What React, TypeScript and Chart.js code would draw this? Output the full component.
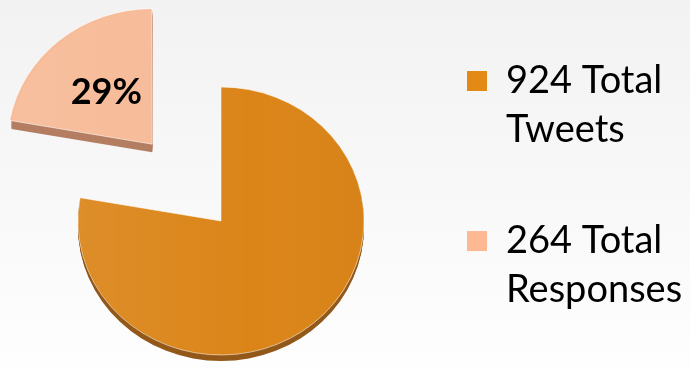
import React, { useEffect, useRef } from "react";
import { Chart, registerables, DoughnutController } from "chart.js";

Chart.register(...registerables);

// ---- data ----
const sliceLabels: string[][] = [["924 Total", "Tweets"], ["264 Total", "Responses"]];
const sliceValues: number[] = [924, 264];
const sliceTexts: (string | null)[] = [null, "29%"];

// ---- styles ----
const sliceColors = ["#DB8519", "#F7BB98"];
const sideColors = ["#93591A", "#B47E63"];
const legendColors = ["#E38A16", "#FDB994"];
const sideDepths = [6, 8];
const TILT = 0.937;

function arcGeom(arc: any) {
  const { x, y, startAngle, endAngle, outerRadius } = arc;
  const off = (arc.options.offset || 0) / 4;
  const mid = (startAngle + endAngle) / 2;
  return { ox: x + Math.cos(mid) * off, oy: y + Math.sin(mid) * off, startAngle, endAngle, outerRadius, mid, off };
}

const tiltPlugin = {
  id: "tilt3d",
  beforeDatasetsDraw(chart: any) {
    const ctx = chart.ctx;
    const arcs = chart.getDatasetMeta(0).data as any[];
    ctx.save();
    if (!arcs.length) return;
    const cx = arcs[0].x;
    const cy = arcs[0].y;
    ctx.translate(cx, cy);
    ctx.scale(1, TILT);
    ctx.translate(-cx, -cy);
    arcs.forEach((arc: any, i: number) => {
      const { ox, oy, startAngle, endAngle, outerRadius } = arcGeom(arc);
      ctx.fillStyle = sideColors[i];
      for (let d = sideDepths[i]; d >= 1; d--) {
        ctx.beginPath();
        ctx.moveTo(ox, oy + d / TILT);
        ctx.arc(ox, oy + d / TILT, outerRadius, startAngle, endAngle);
        ctx.closePath();
        ctx.fill();
      }
    });
  },
  afterDatasetsDraw(chart: any) {
    const ctx = chart.ctx;
    const arcs = chart.getDatasetMeta(0).data as any[];
    // subtle lighting on the top faces
    arcs.forEach((arc: any) => {
      const { ox, oy, startAngle, endAngle, outerRadius } = arcGeom(arc);
      const g = ctx.createLinearGradient(ox - outerRadius, oy, ox + outerRadius, oy);
      g.addColorStop(0, "rgba(255,255,255,0.07)");
      g.addColorStop(0.6, "rgba(255,255,255,0)");
      g.addColorStop(1, "rgba(0,0,0,0.02)");
      ctx.beginPath();
      ctx.moveTo(ox, oy);
      ctx.arc(ox, oy, outerRadius - 1, startAngle, endAngle);
      ctx.closePath();
      ctx.fillStyle = g;
      ctx.fill();
    });
    ctx.restore();
    arcs.forEach((arc: any, i: number) => {
      const txt = sliceTexts[i];
      if (!txt) return;
      const { mid, off, outerRadius } = arcGeom(arc);
      const dist = off + outerRadius * 0.5;
      const lx = arc.x + Math.cos(mid) * dist;
      const ly = arc.y + Math.sin(mid) * dist * TILT;
      ctx.save();
      ctx.font = "bold 36px Lato";
      ctx.fillStyle = "#000";
      ctx.textAlign = "center";
      ctx.textBaseline = "middle";
      ctx.fillText(txt, lx, ly);
      ctx.restore();
    });
  },
};

export default function App() {
  const ref = useRef<HTMLCanvasElement>(null);
  useEffect(() => {
    if (!ref.current) return;
    const baseGen = (DoughnutController as any).overrides.plugins.legend.labels.generateLabels;
    const chart = new Chart(ref.current, {
      type: "pie",
      data: {
        labels: sliceLabels as any,
        datasets: [
          {
            data: sliceValues,
            backgroundColor: sliceColors,
            borderColor: "rgba(255,255,255,0.55)",
            borderWidth: 1,
            offset: [0, 428],
            clip: false as any,
          },
        ],
      },
      options: {
        responsive: false,
        animation: false,
        radius: 143,
        cutout: "0%",
        layout: { padding: { left: 37, top: 0, right: 5, bottom: 0 } },
        plugins: {
          tooltip: { enabled: false },
          title: {
            display: true,
            text: "",
            position: "top",
            fullSize: false,
            font: { size: 10, lineHeight: 1 },
            padding: { top: 62, bottom: 0 },
          },
          legend: {
            position: "right",
            align: "start",
            fullSize: true,
            maxWidth: 280,
            labels: {
              boxWidth: 20,
              boxHeight: 20,
              padding: 62,
              color: "#000",
              font: { family: "Lato", size: 38, lineHeight: 1.29 },
              generateLabels(c: any) {
                return baseGen(c).map((it: any, i: number) => ({
                  ...it,
                  fillStyle: legendColors[i],
                  strokeStyle: legendColors[i],
                  lineWidth: 0,
                }));
              },
            },
          },
        },
      } as any,
      plugins: [tiltPlugin],
    });
    return () => chart.destroy();
  }, []);
  return (
    <div
      style={{
        position: "fixed",
        left: 0,
        top: 0,
        width: 690,
        height: 370,
        background: "linear-gradient(#f2f2f2, #fefefe)",
      }}
    >
      <canvas ref={ref} width={690} height={370} style={{ display: "block" }} />
    </div>
  );
}
